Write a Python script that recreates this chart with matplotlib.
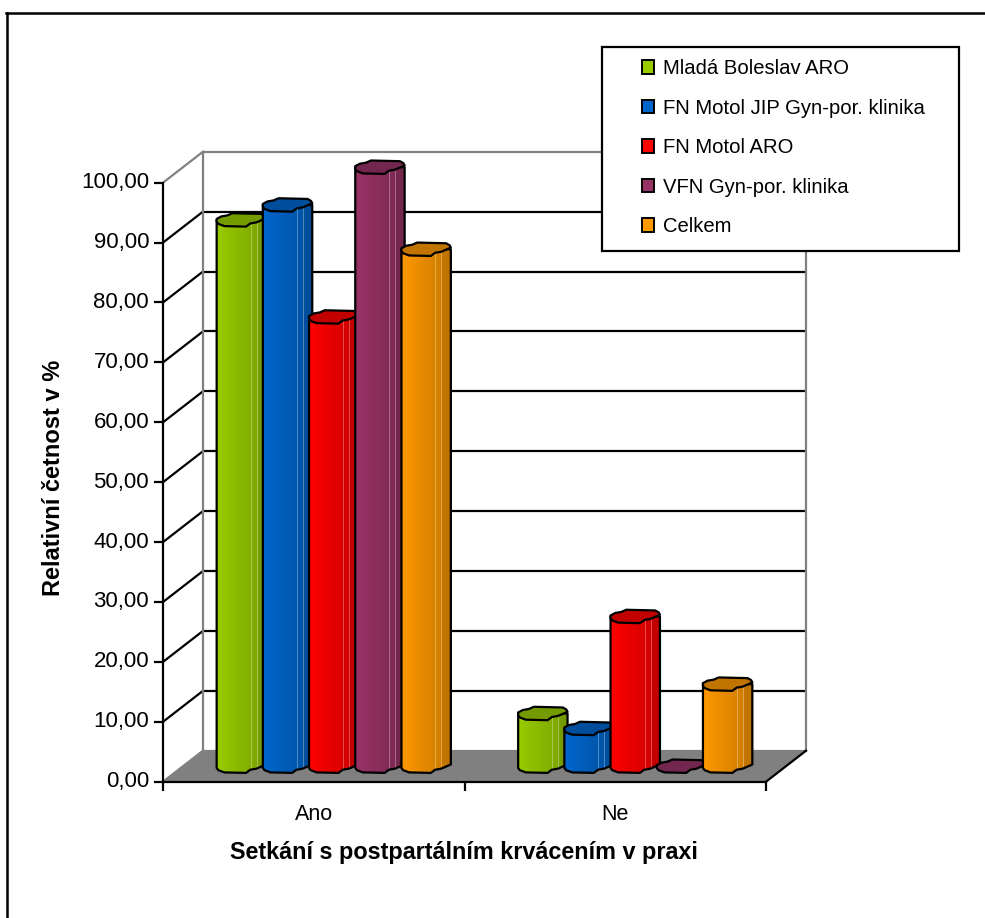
#!/usr/bin/env python3
# -*- coding: utf-8 -*-
import numpy as np
import matplotlib
matplotlib.use("Agg")
import matplotlib.pyplot as plt
from matplotlib.patches import Patch, Polygon, Rectangle

plt.rcParams['font.family'] = ['Liberation Sans', 'DejaVu Sans']

W, H = 985, 918

categories = ['Ano', 'Ne']
series = ['Mladá Boleslav ARO', 'FN Motol JIP Gyn-por. klinika', 'FN Motol ARO',
          'VFN Gyn-por. klinika', 'Celkem']
ano_values = [91.2, 93.7, 75.0, 100.0, 86.3]
ne_values = [8.8, 6.3, 25.0, 0.0, 13.7]
colors = ['#99cc00', '#0066cc', '#ff0000', '#993366', '#ff9900']
y_ticks = [0, 10, 20, 30, 40, 50, 60, 70, 80, 90, 100]

# plot scale: pixels per data unit
PX_X = 301.5
PX_Y = 5.99
DEPTH_X = 40 / PX_X
DEPTH_Y = 31 / PX_Y
BAR_STEP = 46.2 / PX_X
LINE = 1.6

# outline of a cylinder end, in pixels around its centre (faceted, sheared)
cap_px = np.array([(-24.7, -1.7), (-23, -4), (-17, -6.2), (4.7, -6.7), (9, -3.5), (15, -2.5),
                   (24.7, 1.7), (23.5, 4), (20, 6), (-9, 6.7), (-14, 4.5), (-20, 3.5),
                   (-24.7, 1)])
cap_shape = cap_px / [PX_X, PX_Y]
front_edge = cap_shape[:7]

# side shading from left to right, with the light facet lines
shade = 1.0 - 0.22 * np.linspace(0, 1, 49)
shade[40:] -= 0.04
glint = np.zeros(49)
glint[[33, 39]] = 0.3


def to_fig(x, y):
    return x / W, 1 - y / H


def draw_cylinder(ax, fig, cx, value, color, z):
    base = np.array(matplotlib.colors.to_rgb(color))
    cy = value + DEPTH_Y / 2
    y0 = DEPTH_Y / 2
    half = 24.7 / PX_X
    if value > 0:
        body = np.vstack([[cx - half, cy], front_edge + [cx, y0], [cx + half, cy]])
        img = shade[None, :, None] * base[None, None, :]
        img = img + glint[None, :, None] * (1 - img)
        im = ax.imshow(img, extent=[cx - half, cx + half, y0 - 2, cy], aspect='auto',
                       interpolation='nearest', zorder=z)
        outline = Polygon(body, closed=True, facecolor='none', edgecolor='black', lw=LINE,
                          zorder=z + 0.1, clip_on=False, joinstyle='round')
        ax.add_patch(outline)
        im.set_clip_box(fig.bbox)
        im.set_clip_path(outline)
    top = Polygon(cap_shape + [cx, cy], closed=True, facecolor=base * 0.76, edgecolor='black',
                  lw=LINE, zorder=z + 0.2, clip_on=False, joinstyle='round')
    ax.add_patch(top)


def main():
    fig = plt.figure(figsize=(W / 100, H / 100), dpi=100)
    ax = fig.add_axes([163 / W, 1 - 781.7 / H, 603 / W, 599 / H])
    ax.patch.set_visible(False)

    # floor and walls behind the plot
    floor = [(0, 0), (2, 0), (2 + DEPTH_X, DEPTH_Y), (DEPTH_X, DEPTH_Y)]
    ax.add_patch(Polygon(floor, closed=True, facecolor='#808080', edgecolor='none', zorder=1,
                         clip_on=False))
    for t in y_ticks:
        edge = '#808080' if t in (0, 100) else 'black'
        ax.plot([DEPTH_X, 2 + DEPTH_X], [t + DEPTH_Y, t + DEPTH_Y], color=edge, lw=LINE, zorder=2,
                clip_on=False, solid_capstyle='butt')
        ax.plot([0, DEPTH_X], [t, t + DEPTH_Y], color=edge, lw=LINE, zorder=2, clip_on=False)
    ax.plot([DEPTH_X, DEPTH_X], [DEPTH_Y, 100 + DEPTH_Y], color='#808080', lw=LINE, zorder=2,
            clip_on=False)
    ax.plot([2 + DEPTH_X, 2 + DEPTH_X], [DEPTH_Y, 100 + DEPTH_Y], color='#808080', lw=LINE,
            zorder=2, clip_on=False)
    ax.plot([2, 2 + DEPTH_X], [0, DEPTH_Y], color='black', lw=LINE, zorder=3, clip_on=False)

    for c, values in enumerate([ano_values, ne_values]):
        for i, v in enumerate(values):
            cx = c + 0.5 + (i - 2) * BAR_STEP + DEPTH_X / 2
            draw_cylinder(ax, fig, cx, v, colors[i], 4 + c + i * 0.5)
    ax.set_xlim(0, 2)
    ax.set_ylim(0, 100)

    for side in ('top', 'right'):
        ax.spines[side].set_visible(False)
    for side in ('left', 'bottom'):
        ax.spines[side].set_linewidth(LINE)
        ax.spines[side].set_zorder(8)
    ax.set_yticks(y_ticks)
    ax.set_yticklabels([('%.2f' % t).replace('.', ',') for t in y_ticks], va='center')
    ax.set_xticks([0, 1, 2])
    ax.set_xticklabels([])
    ax.set_xticks([0.5, 1.5], minor=True)
    ax.set_xticklabels(categories, minor=True)
    ax.tick_params(axis='x', which='major', length=6.5, width=LINE)
    ax.tick_params(axis='x', which='minor', length=0, labelsize=15.5, pad=16)
    ax.tick_params(axis='y', length=6.5, width=LINE, labelsize=16, pad=3.5)

    fig.text(*to_fig(464, 852), 'Setkání s postpartálním krvácením v praxi', ha='center',
             va='center', fontsize=16.8, fontweight='bold')
    fig.text(*to_fig(54, 478), 'Relativní četnost v %', ha='center', va='center', rotation=90,
             fontsize=17, fontweight='bold')

    # legend box
    x0, y0 = to_fig(602, 251)
    x1, y1 = to_fig(959, 47)
    ax.add_patch(Rectangle((x0, y0), x1 - x0, y1 - y0, transform=fig.transFigure, facecolor='white',
                           edgecolor='black', lw=LINE, zorder=20, clip_on=False))
    handles = [Patch(facecolor=c, edgecolor='black', lw=1.4) for c in colors]
    leg = ax.legend(handles, series, loc='upper left', bbox_to_anchor=to_fig(629.5, 47),
                    bbox_transform=fig.transFigure, frameon=False, fontsize=14.6,
                    handlelength=0.62, handleheight=0.62, handletextpad=0.42, labelspacing=1.01,
                    borderpad=0.6, borderaxespad=0)
    leg.set_zorder(21)

    # chart area frame, open on the right and at the bottom
    fig.add_artist(plt.Line2D([6.5 / W, 6.5 / W], [0, 1 - 13 / H], color='black', lw=1.8))
    fig.add_artist(plt.Line2D([5.8 / W, 1], [1 - 13 / H, 1 - 13 / H], color='black', lw=1.8))

    fig.savefig('out.png', dpi=100)


if __name__ == '__main__':
    main()
